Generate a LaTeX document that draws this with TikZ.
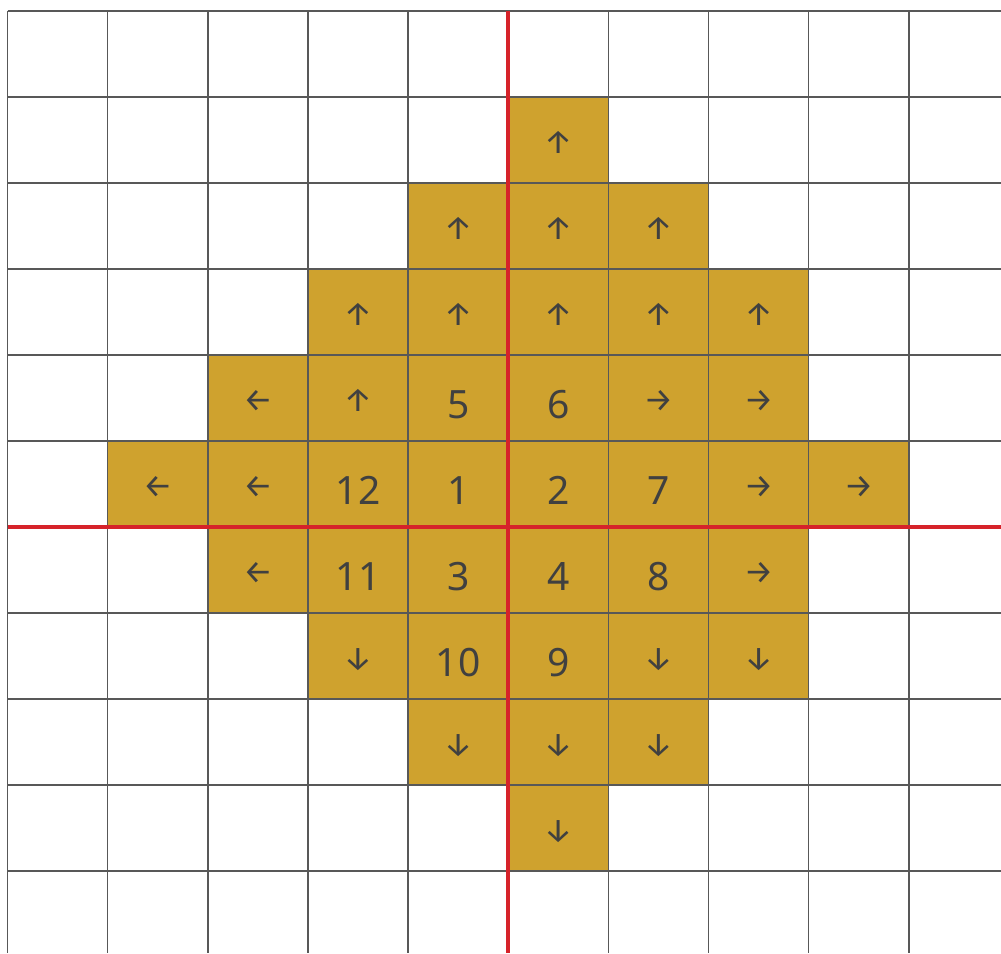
\documentclass[tikz,border=0pt]{standalone}
\usepackage{fontspec}
\setmainfont{Noto Sans}
\newfontfamily\arrowfont{Fira Sans}
\definecolor{gold}{RGB}{207,162,46}
\definecolor{gridgray}{RGB}{88,88,88}
\definecolor{redline}{RGB}{214,35,42}
\definecolor{txt}{RGB}{64,64,64}
\begin{document}
\begin{tikzpicture}[x=1pt,y=-1pt,
  cell/.style={fill=gold, minimum width=100.15pt, minimum height=86pt, inner sep=0pt, text=txt},
  numcell/.style={cell, font=\fontsize{39}{39}\selectfont, text depth=0pt, text height=41pt},
  arrcell/.style={cell, font=\arrowfont\fontsize{33}{33}\selectfont, text depth=0pt, text height=26pt},
  gridline/.style={draw=gridgray, line width=1.4pt},
  axisline/.style={draw=redline, line width=4pt}]
\useasboundingbox[fill=white] (0,0) rectangle (1001,953);
% numbered cells
\foreach \c/\r/\t in {4/4/5,5/4/6,3/5/12,4/5/1,5/5/2,6/5/7,3/6/11,4/6/3,5/6/4,6/6/8,4/7/10,5/7/9}
  \node[numcell] (c\c r\r) at ({7.5+100.15*(\c+0.5)},{11+86*(\r+0.5)}) {\t};
% up arrows
\foreach \c/\r in {5/1,4/2,5/2,6/2,3/3,4/3,5/3,6/3,7/3,3/4}
  \node[arrcell] (c\c r\r) at ({7.5+100.15*(\c+0.5)},{11+86*(\r+0.5)}) {↑};
% left arrows
\foreach \c/\r in {2/4,1/5,2/5,2/6}
  \node[arrcell] (c\c r\r) at ({7.5+100.15*(\c+0.5)},{11+86*(\r+0.5)}) {←};
% right arrows
\foreach \c/\r in {6/4,7/4,7/5,8/5,7/6}
  \node[arrcell] (c\c r\r) at ({7.5+100.15*(\c+0.5)},{11+86*(\r+0.5)}) {→};
% down arrows
\foreach \c/\r in {3/7,6/7,7/7,4/8,5/8,6/8,5/9}
  \node[arrcell] (c\c r\r) at ({7.5+100.15*(\c+0.5)},{11+86*(\r+0.5)}) {↓};
% grid
\foreach \k in {0,...,9}
  \draw[gridline] ({7.5+100.15*\k},11) -- ({7.5+100.15*\k},953);
\foreach \k in {0,...,10}
  \draw[gridline] (7.5,{11+86*\k}) -- (1001,{11+86*\k});
% axes
\draw[axisline] (508.25,11) -- (508.25,953);
\draw[axisline] (7.5,527) -- (1001,527);
\end{tikzpicture}
\end{document}
